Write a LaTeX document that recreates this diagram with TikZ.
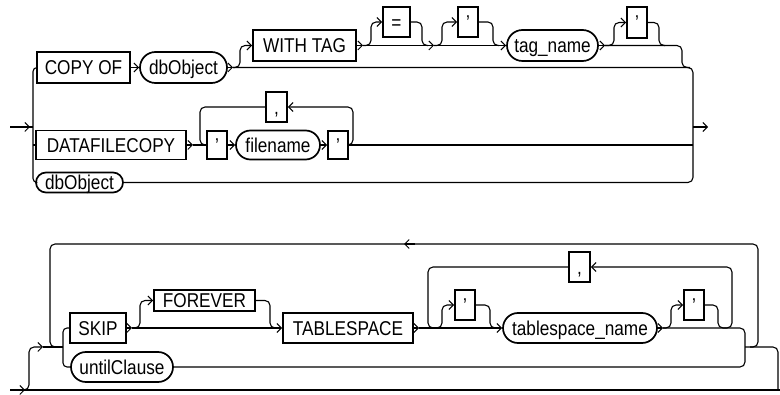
\documentclass[tikz,border=0pt]{standalone}
\usepackage{fontspec}
\setmainfont{Liberation Sans}[FakeStretch=0.86]
\usetikzlibrary{arrows.meta,shapes.misc}
\begin{document}
\begin{tikzpicture}[x=1pt,y=-1pt,
  rail/.style={line width=1.1pt, line join=round},
  rc/.style={rail, rounded corners=5pt},
  arr/.style={-{Straight Barb[length=4.5pt,width=9pt,line width=1pt]}},
  sz/.style 2 args={minimum width=#1pt, minimum height=#2pt},
  box/.style={draw, line width=1.7pt, rectangle, inner sep=0pt, text height=14.3pt, text depth=0pt, font=\fontsize{20}{23}\selectfont},
  oval/.style={box, rounded rectangle},
]
\useasboundingbox (0,0) rectangle (780,395);

% ---------- top diagram ----------
\node[box, sz={93}{31}] (copyof) at (83.5,67.5) {COPY OF};
\node[oval, sz={87}{31}] (dbo1) at (183.5,67.5) {dbObject};
\node[box, sz={103}{31}] (withtag) at (304.5,45.5) {WITH TAG};
\node[box, sz={27}{30}] (eq) at (396.5,22) {=};
\node[box, sz={20}{30}] (q1) at (468,22) {'};
\node[oval, sz={91}{31}] (tagname) at (552.5,45.5) {tag\_name};
\node[box, sz={20}{31}] (q2) at (637,22.5) {'};
\node[box, sz={150}{29}] (dfc) at (111,145) {DATAFILECOPY};
\node[box, sz={20}{28}] (q3) at (217,145) {'};
\node[oval, sz={84}{29}] (fname) at (278,145) {filename};
\node[box, sz={20}{28}] (q4) at (338,145) {'};
\node[box, sz={21}{30}] (comma1) at (276.5,107) {,};
\node[oval, sz={87}{20}] (dbo2) at (79.5,182.5) {dbObject};

\coordinate (j1) at (233,67.5);
\coordinate (j2) at (363,45.5);
\coordinate (j3) at (434,45.5);
\coordinate (j4) at (605,45.5);
\coordinate (j5) at (193,145);

\draw[rail] (10,127) -- (33,127);
\draw[rail,arr] (10,127) -- (30,127);
\draw[rail, rounded corners=4pt] (copyof.west) -- (33,67.5) -- (33,182.5) -- (dbo2.west);
\draw[rail] (33,145) -- (dfc.west);
\draw[rail,arr] (copyof.east) -- (dbo1.west);
\draw[rail,arr] (dbo1.east) -- (j1);
\draw[rc,arr] (j1) -- (240,67.5) -- (240,45.5) -- (withtag.west);
\draw[rc] (j1) -- (693,67.5) -- (693,182.5) -- (dbo2.east);
\draw[rail,arr] (withtag.east) -- (j2);
\draw[rc,arr] (j2) -- (371,45.5) -- (371,22) -- (eq.west);
\draw[rc] (eq.east) -- (422,22) -- (422,45.5) -- (428,45.5);
\draw[rail,arr] (j2) -- (j3);
\draw[rc,arr] (j3) -- (442,45.5) -- (442,22) -- (q1.west);
\draw[rc] (q1.east) -- (493,22) -- (493,45.5) -- (499,45.5);
\draw[rail,arr] (j3) -- (tagname.west);
\draw[rail,arr] (tagname.east) -- (j4);
\draw[rc,arr] (j4) -- (614,45.5) -- (614,22.5) -- (q2.west);
\draw[rc] (q2.east) -- (659,22.5) -- (659,45.5) -- (665,45.5);
\draw[rc] (j4) -- (682,45.5) -- (682,67.5) -- (690,67.5);
\draw[rail,arr] (693,127) -- (708,127);

\draw[rail,arr] (dfc.east) -- (j5);
\draw[rail] (j5) -- (q3.west);
\draw[rail,arr] (q3.east) -- (fname.west);
\draw[rail,arr] (fname.east) -- (q4.west);
\draw[rail] (q4.east) -- (693,145);
\draw[rc,arr] (q4.east) -- (353,145) -- (353,107) -- (comma1.east);
\draw[rc] (comma1.west) -- (200,107) -- (200,145) -- (q3.west);

% ---------- bottom diagram ----------
\node[box, sz={56}{30}] (skip) at (98,328) {SKIP};
\node[box, sz={101}{21}] (forever) at (204.5,300.5) {FOREVER};
\node[box, sz={130}{30}] (tblsp) at (348,328) {TABLESPACE};
\node[box, sz={20}{30}] (q5) at (465,305) {'};
\node[oval, sz={154}{30}] (tsname) at (580,328) {tablespace\_name};
\node[box, sz={20}{30}] (q6) at (694,305) {'};
\node[box, sz={21}{30}] (comma2) at (579.5,267) {,};
\node[oval, sz={102}{30}] (until) at (122,367) {untilClause};

\coordinate (j6) at (132,328);
\coordinate (j7) at (419,328);
\coordinate (j8) at (663,328);

\draw[rail] (10,390) -- (780,390);
\draw[rail,arr] (10,390) -- (25,390);
\draw[rc,arr] (22,390) -- (29,390) -- (29,347) -- (43,347);
\draw[rail] (43,347) -- (63,347);
\draw[rail, rounded corners=4pt] (skip.west) -- (63,328) -- (63,367) -- (until.west);
\draw[rail,arr] (skip.east) -- (j6);
\draw[rc,arr] (j6) -- (140,328) -- (140,300.5) -- (forever.west);
\draw[rc] (forever.east) -- (270,300.5) -- (270,328) -- (277,328);
\draw[rail,arr] (j6) -- (tblsp.west);
\draw[rail,arr] (tblsp.east) -- (j7);
\draw[rc,arr] (j7) -- (442,328) -- (442,305) -- (q5.west);
\draw[rc] (q5.east) -- (490,305) -- (490,328) -- (497,328);
\draw[rail,arr] (j7) -- (tsname.west);
\draw[rail,arr] (tsname.east) -- (j8);
\draw[rc,arr] (j8) -- (671,328) -- (671,305) -- (q6.west);
\draw[rc] (q6.east) -- (718,305) -- (718,328) -- (725,328);
\draw[rc] (j8) -- (745,328) -- (745,367) -- (until.east);
\draw[rc,arr] (725,328) -- (732,328) -- (732,267) -- (comma2.east);
\draw[rc] (comma2.west) -- (428,267) -- (428,328) -- (435,328);
\draw[rc] (745,347) -- (778,347) -- (778,390);
\draw[rc] (750,347) -- (758,347) -- (758,244) -- (50,244) -- (50,347) -- (57,347);
\draw[rail,arr] (415,244) -- (404,244);
\end{tikzpicture}
\end{document}
